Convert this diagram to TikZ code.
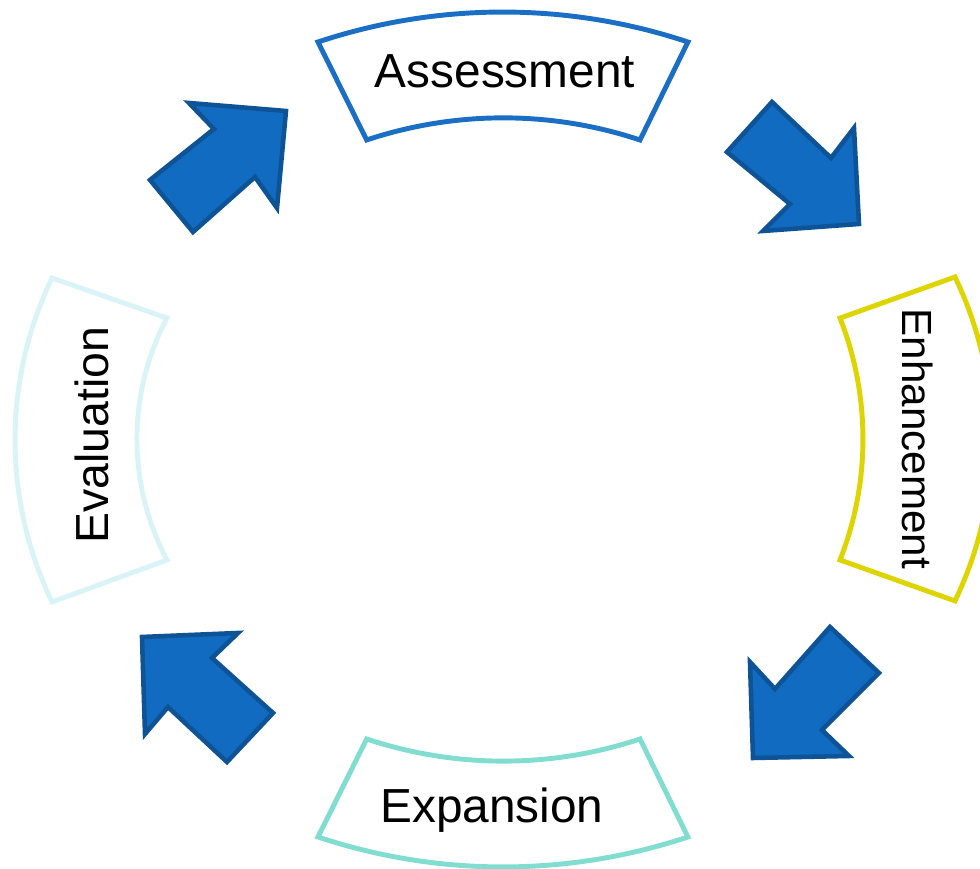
\documentclass[tikz,border=0pt]{standalone}
\usepackage{fontspec}
\setmainfont{Liberation Sans}
\definecolor{arrowblue}{HTML}{116BC1}
\definecolor{arrowedge}{HTML}{0E5396}
\definecolor{assessblue}{HTML}{1A6FC4}
\definecolor{enhanceyellow}{HTML}{DDD400}
\definecolor{expandteal}{HTML}{80DDD0}
\definecolor{evalcyan}{HTML}{DAF3F7}
\begin{document}
\begin{tikzpicture}[line join=miter,
  frame/.style={line width=1.4pt},
  blockarrow/.style={fill=arrowblue, draw=arrowedge, line width=1.3pt},
  stagetext/.style={font=\fontsize{13.6}{16}\selectfont, inner sep=0pt}]
  \useasboundingbox (0,0) rectangle (9.8,8.69);

  % ring segments
  \draw[frame, assessblue] (3.18,8.27) arc[start angle=108.4, end angle=71.6, radius=5.86]
    -- (6.40,7.29) arc[start angle=71.6, end angle=108.4, radius=4.33] -- cycle;
  \draw[frame, enhanceyellow] (9.55,5.92) arc[start angle=25.7, end angle=-25.7, radius=3.735]
    -- (8.40,3.09) arc[start angle=-21.5, end angle=21.5, radius=3.30] -- cycle;
  \draw[frame, expandteal] (3.18,0.32) arc[start angle=-108.4, end angle=-71.6, radius=5.86]
    -- (6.40,1.30) arc[start angle=-71.6, end angle=-108.4, radius=4.33] -- cycle;
  \draw[frame, evalcyan] (0.52,5.91) arc[start angle=154.3, end angle=205.7, radius=3.735]
    -- (1.67,3.09) arc[start angle=207.9, end angle=152.1, radius=2.586] -- cycle;

  \node[stagetext, anchor=base] (assess) at (5.05,7.81) {Assessment};
  \node[stagetext, anchor=base, rotate=-90, font=\fontsize{12}{14}\selectfont] (enhance) at (9.03,4.30) {Enhancement};
  \node[stagetext, anchor=base] (expand) at (4.92,0.46) {Expansion};
  \node[stagetext, anchor=base, rotate=90, font=\fontsize{13.2}{15}\selectfont] (evaluate) at (1.08,4.34) {Evaluation};

  % block arrows between the stages
  \draw[blockarrow] (1.50,6.89) -- (1.93,6.37) -- (2.55,6.92) -- (2.77,6.61)
    -- (2.86,7.58) -- (1.89,7.66) -- (2.14,7.40) -- cycle;
  \draw[blockarrow] (7.72,7.67) -- (7.27,7.17) -- (7.90,6.65) -- (7.63,6.38)
    -- (8.59,6.45) -- (8.54,7.41) -- (8.31,7.11) -- cycle;
  \draw[blockarrow] (8.30,2.42) -- (8.79,1.96) -- (8.22,1.39) -- (8.49,1.13)
    -- (7.53,1.11) -- (7.50,2.07) -- (7.75,1.80) -- cycle;
  \draw[blockarrow] (2.73,1.56) -- (2.27,1.07) -- (1.68,1.62) -- (1.45,1.35)
    -- (1.42,2.32) -- (2.38,2.36) -- (2.12,2.11) -- cycle;
\end{tikzpicture}
\end{document}
